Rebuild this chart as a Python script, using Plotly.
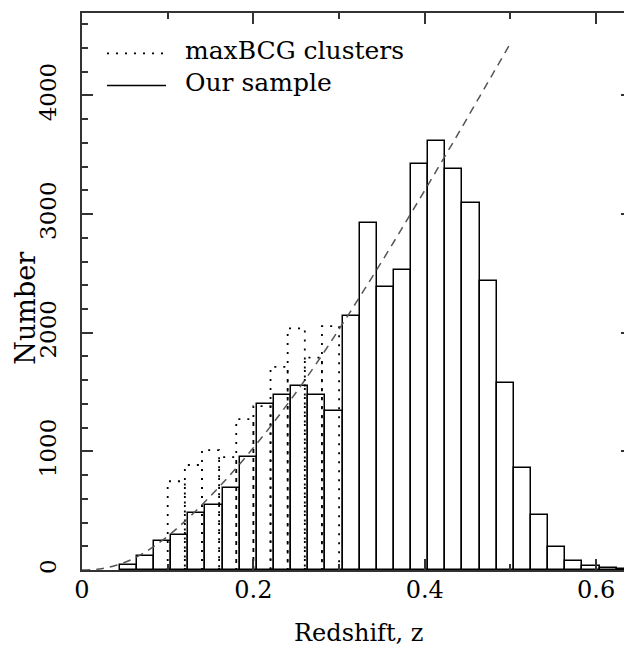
import plotly.graph_objects as go

# ---- data ----
bin_width = 0.02
# "Our sample" histogram: left edges of bins and counts
sample_left = [0.044, 0.064, 0.084, 0.104, 0.124, 0.144, 0.164, 0.184, 0.204, 0.224,
               0.244, 0.264, 0.284, 0.304, 0.324, 0.344, 0.364, 0.384, 0.404, 0.424,
               0.444, 0.464, 0.484, 0.504, 0.524, 0.544, 0.564, 0.584, 0.604, 0.624]
sample_n = [45, 122, 246, 291, 482, 546, 693, 950, 1397, 1475,
            1552, 1475, 1340, 2145, 2927, 2383, 2525, 3419, 3620, 3377,
            3095, 2437, 1576, 862, 460, 190, 76, 33, 14, 10]

# "maxBCG clusters" histogram
maxbcg_left = [0.10, 0.12, 0.14, 0.16, 0.18, 0.20, 0.22, 0.24, 0.26, 0.28]
maxbcg_n = [748, 885, 1010, 952, 1272, 1381, 1713, 2037, 1790, 2055]

# dashed model curve
model_z = [0.0, 0.02, 0.04, 0.06, 0.08, 0.10, 0.12, 0.14, 0.16, 0.18, 0.20, 0.22, 0.24,
           0.26, 0.28, 0.30, 0.32, 0.34, 0.36, 0.38, 0.40, 0.42, 0.44, 0.46, 0.48, 0.50]
model_n = [0, 8, 40, 95, 180, 285, 410, 550, 700, 860, 1030, 1210, 1400,
           1600, 1810, 2030, 2255, 2485, 2720, 2960, 3200, 3445, 3690, 3940, 4190, 4440]

x_tickvals = [0, 0.2, 0.4, 0.6]
x_ticktext = ["0", "0.2", "0.4", "0.6"]
y_tickvals = [0, 1000, 2000, 3000, 4000]
y_ticktext = ["0", "1000", "2000", "3000", "4000"]

legend_labels = ["maxBCG clusters", "Our sample"]
x_title = "Redshift, z"
y_title = "Number"

FONT = "DejaVu Serif"
AX = "#333333"

# ---- build outline path for dotted histogram ----
dx, dy = [], []
for left, n in zip(maxbcg_left, maxbcg_n):
    right = left + bin_width
    dx += [left, left, right, right, None]
    dy += [0, n, n, 0, None]

fig = go.Figure()

fig.add_trace(go.Scatter(
    x=dx, y=dy, mode="lines", connectgaps=False,
    line=dict(color="black", width=1.8, dash="2px,7px"),
    hoverinfo="skip", showlegend=False))

fig.add_trace(go.Bar(
    x=[l + bin_width / 2 for l in sample_left], y=sample_n, width=bin_width,
    marker=dict(color="rgba(0,0,0,0)", line=dict(color="black", width=1.5)),
    hoverinfo="skip", showlegend=False))

fig.add_trace(go.Scatter(
    x=model_z, y=model_n, mode="lines", line_shape="spline",
    line=dict(color="#555555", width=1.5, dash="8px,6px"),
    hoverinfo="skip", showlegend=False))

# empty trace to create the right-hand tick axis
fig.add_trace(go.Scatter(x=[None], y=[None], yaxis="y2", showlegend=False,
                         hoverinfo="skip", mode="lines"))

# the page body has an 8px margin: work in window pixels and shift
OFF = 8
WIN_W, WIN_H = 632, 651
W, H = WIN_W - OFF, WIN_H - OFF
PL, PR, PT, PB = 82, 632, 13, 570.5   # plot area in window pixels
ML = PL - OFF
MR = 0
MT = PT - OFF
MB = H - (PB - OFF)
plot_w = W - ML - MR
plot_h = H - MT - MB
xmax = 0.6418
ymax = 4695


def px_x(p):
    return (p - PL) / plot_w


def px_y(p):
    return (PB - p) / plot_h


fig.update_layout(
    width=W, height=H,
    margin=dict(l=ML, r=MR, t=MT, b=MB, pad=0),
    paper_bgcolor="white", plot_bgcolor="white",
    barmode="overlay", bargap=0,
    font=dict(family=FONT, color="black"),
    xaxis=dict(range=[0, xmax], showgrid=False, zeroline=False,
               showline=True, linecolor=AX, linewidth=1.6, mirror="ticks",
               ticks="inside", ticklen=11, tickwidth=1.5, tickcolor=AX,
               tickvals=x_tickvals, ticktext=x_ticktext,
               tickfont=dict(family=FONT, size=24, color="black"),
               ticklabelstandoff=-3,
               minor=dict(ticks="inside", ticklen=6, tickwidth=1.5, tickcolor=AX,
                          tickvals=[0.1, 0.3, 0.5], showgrid=False)),
    yaxis=dict(range=[0, ymax], showgrid=False, zeroline=False,
               showline=True, linecolor=AX, linewidth=1.6, mirror=False,
               ticks="inside", ticklen=11, tickwidth=1.5, tickcolor=AX,
               tickvals=y_tickvals, ticktext=y_ticktext, tickangle=-90,
               tickfont=dict(family=FONT, size=23, color="black"),
               ticklabelstandoff=15,
               minor=dict(ticks="inside", ticklen=6, tickwidth=1.5, tickcolor=AX,
                          dtick=200, showgrid=False)),
    yaxis2=dict(range=[0, ymax], overlaying="y", side="right", showgrid=False,
                zeroline=False, showline=False, showticklabels=False,
                ticks="inside", ticklen=11, tickwidth=1.5, tickcolor=AX,
                tickvals=y_tickvals,
                minor=dict(ticks="inside", ticklen=6, tickwidth=1.5, tickcolor=AX,
                           dtick=200, showgrid=False)),
    showlegend=False,
)

# axis titles
fig.add_annotation(text=x_title, xref="paper", yref="paper",
                   x=px_x(359), y=px_y(634), xanchor="center", yanchor="middle",
                   showarrow=False, font=dict(family=FONT, size=24, color="black"))
fig.add_annotation(text=y_title, xref="paper", yref="paper",
                   x=px_x(26), y=px_y(309), xanchor="center", yanchor="middle",
                   textangle=-90, showarrow=False,
                   font=dict(family=FONT, size=27, color="black"))

# legend (drawn manually)
leg_rows = [(53.5, "2px,7px", 1.8), (85.5, "solid", 1.5)]
for (yy, dash, wdt), label in zip(leg_rows, legend_labels):
    fig.add_shape(type="line", xref="paper", yref="paper",
                  x0=px_x(107), x1=px_x(166), y0=px_y(yy), y1=px_y(yy),
                  line=dict(color="black", width=wdt, dash=dash))
    fig.add_annotation(text=label, xref="paper", yref="paper",
                       x=px_x(183), y=px_y(yy - 3), xanchor="left", yanchor="middle",
                       showarrow=False, font=dict(family=FONT, size=25, color="black"))

fig.write_html("out.html")
